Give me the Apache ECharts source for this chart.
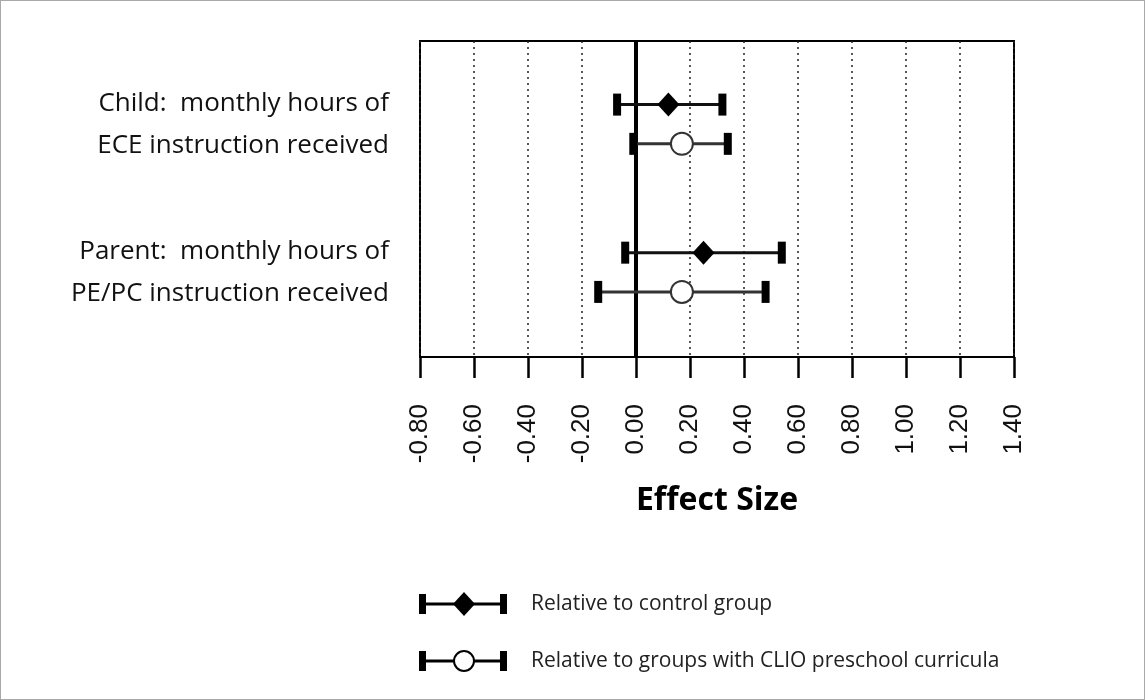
<!DOCTYPE html>
<html>
<head>
<meta charset="utf-8">
<script src="https://cdn.jsdelivr.net/npm/echarts@6/dist/echarts.min.js"></script>
<style>
html,body{margin:0;padding:0;background:#fff;}
#main{width:1145px;height:700px;box-sizing:border-box;border:1px solid #a8a8a8;}
</style>
</head>
<body>
<div id="main"></div>
<script>
// ---- data ----
const categories = ['Child:  monthly hours of\nECE instruction received', 'Parent:  monthly hours of\nPE/PC instruction received'];
const seriesNames = ['Relative to control group', 'Relative to groups with CLIO preschool curricula'];
const controlEst = [0.12, 0.25];
const controlLow = [-0.07, -0.04];
const controlHigh = [0.32, 0.54];
const clioEst = [0.17, 0.17];
const clioLow = [-0.01, -0.14];
const clioHigh = [0.34, 0.48];
const xTickLabels = ['-0.80','-0.60','-0.40','-0.20','0.00','0.20','0.40','0.60','0.80','1.00','1.20','1.40'];
const axisTitle = 'Effect Size';

// ---- layout helpers ----
const FONT = 'Open Sans';
function rowY(g, s) { return 64 + g * 149 + s * 39.5; }

const chart = echarts.init(document.getElementById('main'), null, {renderer: 'canvas'});

function makeData(est, low, high, s) {
  return est.map((e, g) => [low[g], high[g], e, rowY(g, s)]);
}

function renderErr(markerType) {
  return function (params, api) {
    const lo = api.coord([api.value(0), api.value(3)]);
    const hi = api.coord([api.value(1), api.value(3)]);
    const mid = api.coord([api.value(2), api.value(3)]);
    const y = lo[1];
    const capW = 8, capH = 22;
    const children = [
      {type: 'line', shape: {x1: lo[0], y1: y, x2: hi[0], y2: y}, style: {stroke: markerType === 'diamond' ? '#111' : '#333', lineWidth: 3}},
      {type: 'rect', shape: {x: lo[0] - capW / 2, y: y - capH / 2, width: capW, height: capH}, style: {fill: '#000'}},
      {type: 'rect', shape: {x: hi[0] - capW / 2, y: y - capH / 2, width: capW, height: capH}, style: {fill: '#000'}}
    ];
    if (markerType === 'diamond') {
      children.push({type: 'polygon', shape: {points: [[mid[0], y - 12], [mid[0] + 11, y], [mid[0], y + 12], [mid[0] - 11, y]]}, style: {fill: '#000'}});
    } else {
      children.push({type: 'circle', shape: {cx: mid[0], cy: y, r: 11}, style: {fill: '#fff', stroke: '#333', lineWidth: 2}});
    }
    return {type: 'group', children: children};
  };
}

const option = {
  animation: false,
  backgroundColor: '#fff',
  textStyle: {fontFamily: FONT},
  grid: {left: 419, right: 130, top: 40, bottom: 342, show: true, borderColor: '#000', borderWidth: 2, backgroundColor: 'transparent'},
  xAxis: {
    type: 'value', min: -0.8, max: 1.4, interval: 0.2,
    axisLine: {show: true, onZero: false, lineStyle: {color: '#000', width: 2}},
    axisTick: {show: true, length: 21, lineStyle: {color: '#000', width: 2.5}},
    axisLabel: {rotate: 90, fontSize: 26, color: '#111', fontFamily: 'Liberation Sans', margin: 47,
      formatter: function (v) { const i = Math.round((v + 0.8) / 0.2); return xTickLabels[i]; }},
    splitLine: {show: true, lineStyle: {type: [2, 4], color: '#222', width: 1.5}},
    name: axisTitle, nameLocation: 'middle', nameGap: 128,
    nameTextStyle: {fontSize: 32, fontWeight: 'bold', color: '#000', fontFamily: FONT}
  },
  yAxis: {
    type: 'value', min: 0, max: 318, inverse: true,
    axisLine: {show: false}, axisTick: {show: false}, axisLabel: {show: false}, splitLine: {show: false}
  },
  series: [
    {
      name: seriesNames[0], type: 'custom', renderItem: renderErr('diamond'),
      data: makeData(controlEst, controlLow, controlHigh, 0),
      encode: {x: [0, 1, 2], y: 3}, z: 5,
      markLine: {silent: true, symbol: 'none', label: {show: false},
        lineStyle: {color: '#000', width: 4, type: 'solid'}, data: [{xAxis: 0}]}
    },
    {
      name: seriesNames[1], type: 'custom', renderItem: renderErr('circle'),
      data: makeData(clioEst, clioLow, clioHigh, 1),
      encode: {x: [0, 1, 2], y: 3}, z: 5
    }
  ]
};
chart.setOption(option);

// category labels and legend as graphic elements
const graphics = [];
categories.forEach((c, g) => {
  const p = chart.convertToPixel({gridIndex: 0}, [0, (rowY(g, 0) + rowY(g, 1)) / 2]);
  graphics.push({type: 'text', x: 388, y: p[1], style: {text: c, fontSize: 26, fontFamily: FONT, fill: '#111',
    align: 'right', verticalAlign: 'middle', lineHeight: 42}});
});
function legendItem(y, name, marker) {
  const ch = [
    {type: 'line', shape: {x1: 421, y1: y, x2: 503, y2: y}, style: {stroke: '#000', lineWidth: 3}},
    {type: 'rect', shape: {x: 418, y: y - 10, width: 7, height: 20}, style: {fill: '#000'}},
    {type: 'rect', shape: {x: 499, y: y - 10, width: 7, height: 20}, style: {fill: '#000'}}
  ];
  if (marker === 'diamond') {
    ch.push({type: 'polygon', shape: {points: [[463, y - 12], [474, y], [463, y + 12], [452, y]]}, style: {fill: '#000'}});
  } else {
    ch.push({type: 'circle', shape: {cx: 463, cy: y, r: 10}, style: {fill: '#fff', stroke: '#000', lineWidth: 2}});
  }
  ch.push({type: 'text', x: 530, y: y, style: {text: name, fontSize: 21, fontFamily: FONT, fill: '#222', verticalAlign: 'middle'}});
  return ch;
}
graphics.push(...legendItem(603, seriesNames[0], 'diamond'));
graphics.push(...legendItem(660, seriesNames[1], 'circle'));
chart.setOption({graphic: graphics});
</script>
</body>
</html>
